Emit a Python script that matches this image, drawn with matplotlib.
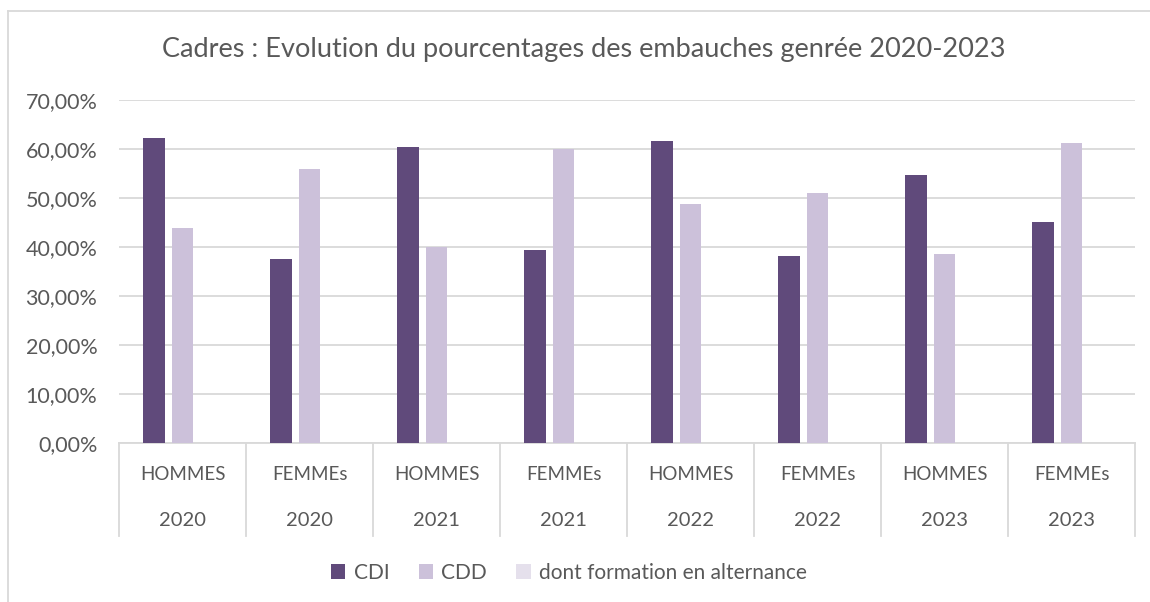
import matplotlib
matplotlib.use("Agg")
import matplotlib.pyplot as plt
from matplotlib.lines import Line2D
from matplotlib.patches import Patch
import numpy as np

plt.rcParams['font.family'] = ['Lato', 'DejaVu Sans']

genders = ["HOMMES", "FEMMEs", "HOMMES", "FEMMEs", "HOMMES", "FEMMEs", "HOMMES", "FEMMEs"]
years = ["2020", "2020", "2021", "2021", "2022", "2022", "2023", "2023"]
cdi = [62.3, 37.6, 60.4, 39.4, 61.6, 38.2, 54.6, 45.2]
cdd = [43.9, 55.9, 39.9, 60.0, 48.7, 51.1, 38.5, 61.2]
alternance = [0, 0, 0, 0, 0, 0, 0, 0]
series_names = ["CDI", "CDD", "dont formation en alternance"]
colors = ["#604A7B", "#CCC1DA", "#E5E0EC"]
yticks = [0, 10, 20, 30, 40, 50, 60, 70]
title = "Cadres : Evolution du pourcentages des embauches genrée 2020-2023"

W, H = 1150, 602
fig = plt.figure(figsize=(W / 100, H / 100), dpi=100)
left, right, top, bottom = 119, 1135, 100, 443
ax = fig.add_axes([left / W, 1 - bottom / H, (right - left) / W, (bottom - top) / H])

text_col = "#595959"
grid_col = "#D9D9D9"

x = np.arange(len(genders))
bw = 0.173
step = 0.224
for i, (vals, c) in enumerate(zip([cdi, cdd, alternance], colors)):
    ax.bar(x + (i - 1) * step, vals, width=bw, color=c, zorder=3)

ax.set_xlim(-0.5, len(genders) - 0.5)
ax.set_ylim(0, 70)
ax.set_yticks(yticks)
ax.set_yticklabels([f"{v:.2f}".replace(".", ",") + "%" for v in yticks],
                   color=text_col, fontsize=15.5)
ax.tick_params(axis='y', length=0, pad=15.5)
ax.tick_params(axis='x', length=0, labelbottom=False)
ax.yaxis.grid(True, color=grid_col, linewidth=1.3, zorder=0)
for s in ["top", "right", "left"]:
    ax.spines[s].set_visible(False)
ax.spines["bottom"].set_color(grid_col)
ax.spines["bottom"].set_linewidth(1.3)

# multi-level category axis
sep_bottom = 536
for k in range(len(genders) + 1):
    fig.add_artist(Line2D([(left + k * (right - left) / len(genders)) / W] * 2,
                          [1 - bottom / H, 1 - sep_bottom / H],
                          color=grid_col, linewidth=1.3))
for k, (g, yv) in enumerate(zip(genders, years)):
    xc = (left + (k + 0.5) * (right - left) / len(genders)) / W
    fig.text(xc, 1 - 475 / H, g, ha='center', va='center', color=text_col, fontsize=13.5)
    fig.text(xc, 1 - 521 / H, yv, ha='center', va='center', color=text_col, fontsize=14.5)

# title
fig.text(0.5 * (165 + 1003) / W, 1 - 50 / H, title, ha='center', va='center',
         color=text_col, fontsize=19.5)

# legend
handles = [Patch(facecolor=c, edgecolor='none') for c in colors]
fig.legend(handles, series_names, loc='center', bbox_to_anchor=(0.5 * (318 + 820) / W, 1 - 573 / H),
           ncol=3, frameon=False, fontsize=15, labelcolor=text_col,
           handlelength=0.7, handleheight=0.7, handletextpad=0.4, columnspacing=1.4)

# chart border (left and top visible)
fig.add_artist(Line2D([8 / W, 8 / W], [0, 1 - 11 / H], color=grid_col, linewidth=1.3))
fig.add_artist(Line2D([8 / W, 1], [1 - 11 / H, 1 - 11 / H], color=grid_col, linewidth=1.3))

fig.savefig("out.png", dpi=100, facecolor="white")
